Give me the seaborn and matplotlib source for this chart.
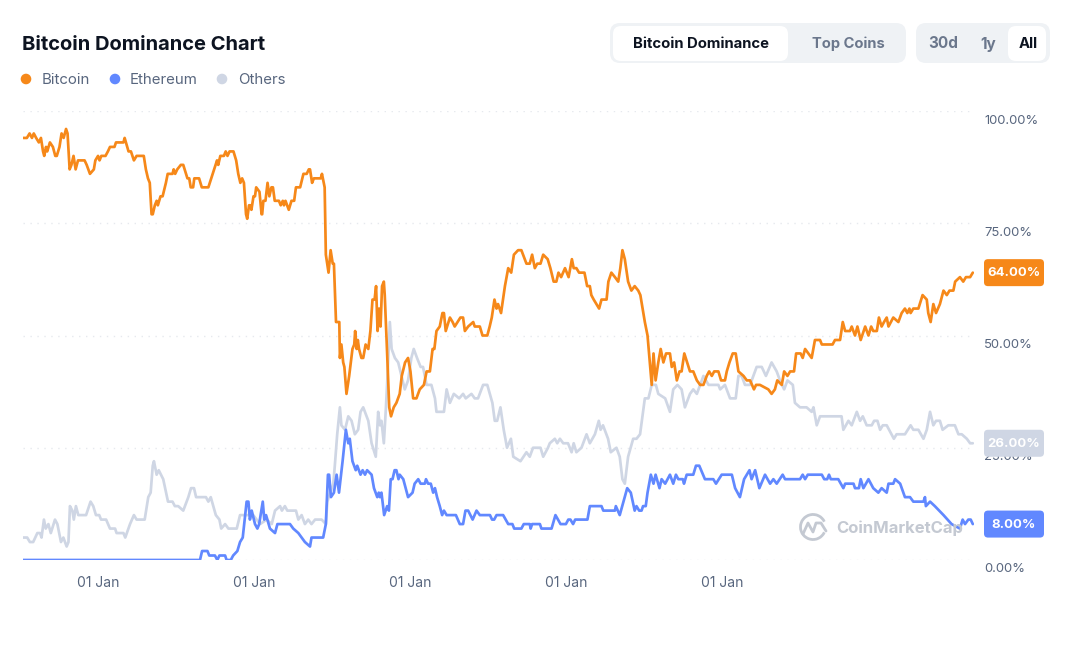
import numpy as np
import pandas as pd
import seaborn as sns
import matplotlib.pyplot as plt
import matplotlib.dates as mdates
from matplotlib.patches import FancyBboxPatch, Circle, Arc

# weeks since the first sample, and dominance in percent
start_date = pd.Timestamp('2015-07-10')

btc_weeks = [0,1.3,2.2,3,3.6,4.4,5.3,6,6.7,7.1,7.7,8.1,9,10,10.8,11.3,12.2,12.9,13.6,14.4,14.9,15.6,16.2,16.9,17.6,18.4,20.6,21.3,22.4,23.7,24.2,25.1,25.6,26.2,27.6,28.4,29.1,30.6,31.1,33.6,34,35.3,36.1,37.1,38,40.4,41.1,41.8,42.4,43,43.4,44.1,44.7,45.1,46,46.7,47.8,48.4,50,50.4,50.9,51.6,52.8,53.6,55,55.6,56.1,56.9,57.3,58.9,59.8,62,64.4,64.9,65.3,66,67.2,67.8,68.4,69.1,70.4,71.3,72,72.7,73.3,73.9,74.6,75,75.6,76.1,76.4,77.1,77.6,78,79.1,79.8,80,80.4,81.1,81.8,82.4,83.1,83.6,84.2,85.6,86.2,86.9,87.3,87.8,88.9,89.8,90.7,91.3,92.7,93.8,94.9,95.6,96,96.7,97.3,99.6,100,100.9,101.3,102.2,102.9,103.6,104,104.7,
    105.1,105.8,106,106.5,107.1,107.5,108.2,109.1,110.2,110.8,111.1,111.6,112,112.4,113.2,113.8,114.6,115.5,116.2,116.9,117.6,118.1,118.6,119.1,119.6,120.1,120.7,121,121.8,122.5,123.1,124,124.9,126,126.7,127.8,128.8,129.6,130.5,131.6,132.7,134.1,135,136.1,137,137.6,138.3,139.4,140.3,140.8,141.4,142.8,143.7,144.4,146.3,147.2,147.8,148.9,150.6,151.1,152.8,153.7,155.3,156.1,156.8,157.7,158.4,158.9,159.9,161.2,162.3,163.3,164.2,165.6,166.7,168.4,169.5,170.3,171.2,172,173.1,174,175.5,176.4,177.5,178.4,179.1,180,181.3,182.5,183.6,184.2,185.1,186,187.8,188.7,189.6,190.1,190.9,192.7,193.5,195.2,195.8,196.8,198,199.1,199.8,200.5,201.3,202.4,203.5,204.6,205.8,206.5,
    208,208.9,210.3,210.9,211.6,212.5,213.3,214.2,215.1,216.4,217,217.8,218.7,219.6,220.3,221.2,222.6,223.1,224.2,225.4,226.5,227.6,228.7,229.5,230.4,231.2,232.6,233.5,234.8,235.4,236.3,237.4,238.4,239.3,241,242.1,243.2,244.5,245.2,246.5,249.3,250.4,251.5,252.3,253.8,254.6,255.7,256.6,257.9,258.6,260.1,260.8,261.6,262.7,263.8,264.9,265.7,266.6,267.2,270.8,271.6,273.3,274.2,275,276.6,277.2,278.3,279.1,280.2,281.7,282.8,283.7,284.4,285.6,286.3,287.2,288,288.9,289.5,291.1,292.8,293.9,295,295.8,296.5,296.9,297.8,299.5,300.9,302.3,302.8,303.6,304.5,305.4,306.7,307.9,309,309.9,311.2,311.8,313.4,314.5,315.4,316.8,317.7]
btc_values = [94,94,95,94,95,94,93,94,91,90,92,91,93,92,90,90,92,95,94,96,95,87,88,90,87,89,89,88,86,87,89,90,89,90,90,91,92,92,93,93,94,91,91,89,90,90,87,85,84,77,77,79,80,79,81,81,84,86,86,87,86,87,88,88,85,85,83,83,85,85,83,83,88,89,88,90,90,91,90,91,91,89,86,84,85,84,77,76,79,79,78,81,81,83,82,77,77,80,80,84,81,83,83,80,80,79,80,79,80,78,80,80,83,83,86,86,87,87,84,85,85,86,83,68,64,69,66,66,53,
    53,53,45,48,44,43,37,41,47,48,51,47,49,47,45,45,48,47,51,58,58,61,51,56,52,61,62,59,46,34,32,34,35,37,41,44,45,42,36,36,38,39,42,42,47,47,51,52,55,55,51,54,53,52,54,54,51,52,53,52,52,50,50,52,54,58,56,57,55,61,65,64,68,69,69,66,66,68,65,66,66,68,67,65,62,62,64,63,65,63,67,65,65,64,64,61,61,59,58,56,58,58,62,64,63,62,65,69,67,62,60,61,60,59,
    53,50,39,46,40,44,47,44,46,46,43,44,40,42,42,46,43,42,42,40,39,39,41,42,41,42,42,40,40,42,44,46,46,42,41,40,40,38,39,39,38,37,38,40,39,42,41,42,42,46,46,45,47,46,45,49,49,49,48,48,49,49,53,51,51,52,50,52,49,52,50,52,51,51,54,52,53,54,52,54,53,55,56,55,56,55,56,56,59,58,55,53,57,55,57,60,59,60,60,62,63,62,63,63,64]

eth_weeks = [0,59.2,59.9,61.7,62.3,64.2,65,65.7,67.6,68.1,69.5,70.3,71.7,72.6,73.5,74.8,75.4,75.9,76.5,77.6,78.4,79,80.2,80.7,81.3,82.6,84.3,85.1,89.3,90.4,92.1,94.3,96,96.5,99.3,100.4,
    101.3,102,102.4,103,104,104.9,105.7,106.9,108,108.8,109.3,110.2,111.3,111.8,112.9,113.6,114.4,115.1,116.6,117.4,118.5,119,119.4,119.9,120.8,121.8,122.4,123,123.6,124.3,124.9,125.6,126,127.2,128.8,130.3,131,132.2,133,134.4,134.8,135.5,136.4,137.2,137.8,138.5,139.4,140.2,140.8,141.7,144.8,146.1,147.2,148,148.9,150.4,151.7,152.8,156.2,156.9,157.6,158.4,160.6,162.3,163.7,164.3,166.7,167.5,169.5,169.8,170.3,172.9,173.4,176.8,178.1,179.8,181.6,182.4,183.1,184,184.7,188.8,189.6,193.5,194.1,198,198.3,199.6,202.1,203.3,204.6,205.2,206.1,206.9,207.4,208.3,
    208.9,210,210.9,211.6,212.9,213.6,214.8,216.4,217.5,218.4,219.2,220.7,221.1,222,224.2,225.1,226.2,228.1,230.9,231.8,233.7,237.1,238.2,239.8,241.2,243,243.7,244.9,246.3,248.2,249.9,251,252.1,254.1,254.9,259.9,260.8,261.6,262.5,267.2,268,269,269.6,270.2,272.7,274.4,275,277.8,278.3,279.6,280.2,281.1,282.8,284.4,286.1,287.2,288.9,289.5,291.1,291.7,293.4,295,296.7,297.8,301.2,301.7,302,303.4,305,307.9,310.6,313.4,314.3,315.1,316.2,317,317.7]
eth_values = [0,0,2,2,1,1,0,1,1,0,0,1,2,4,5,13,13,9,11,8,7,8,13,9,10,7,6,8,8,7,6,4,3,5,5,5,
    8,19,19,14,15,19,15,22,29,26,27,22,20,21,19,20,19,20,19,16,14,15,14,15,10,12,11,18,18,20,20,18,19,18,14,15,17,18,17,17,18,17,17,15,16,14,12,10,11,10,10,8,8,11,11,9,11,10,10,9,9,10,10,8,8,7,7,8,8,7,8,8,7,7,10,8,8,9,9,8,9,9,12,12,11,11,12,10,16,15,11,12,11,11,12,12,
    15,19,17,19,16,18,17,19,17,19,18,18,17,19,19,21,21,18,18,17,19,19,16,14,18,20,18,20,16,19,17,18,17,19,18,18,19,18,19,19,18,18,19,18,18,16,17,17,16,16,18,16,18,16,15,16,15,17,17,18,17,14,14,13,13,14,12,13,12,10,8,7,9,8,9,9,8]

others_weeks = [0,1.4,2.3,3.4,4.8,5.7,6.2,7,7.6,8.5,9.3,10.7,11.5,12.7,13.5,14.6,15.2,15.7,16.5,17,17.7,18.5,21.1,22.6,23.5,24.4,25.5,26.1,27.8,29.1,30.8,31.3,33.6,34.2,35.8,37.1,38,40.7,41.9,42.7,43.4,43.8,44.7,45.4,46.9,48.5,50,50.8,51.9,53.6,55.3,56.2,57.2,57.9,61.2,62,62.8,64.5,65.7,66.3,67.6,68.7,71.5,72.6,74.8,77,79.3,81.5,83.2,84.3,86,86.6,87.6,88.4,91.3,92.1,93.2,94.3,95.4,96.5,97.7,99.9,101.3,101.8,103.8,
    104.3,105.1,106,106.5,107.7,108.8,109.9,111,112.1,112.9,113.8,115.5,116.6,118,118.8,119.4,119.9,120.7,121.4,122,122.7,123.3,124.4,125.5,127.7,128.8,129.9,130.7,131.8,133,133.8,135,136.6,137.8,138.3,140.8,141.7,142.8,144.1,145.9,147.2,148.1,150,151.1,152.2,153.9,155.3,157,157.8,158.6,159.7,160.8,161.9,163.2,164,166.4,168.4,169.5,170.6,173.1,174,175.6,176.2,177.9,178.7,179.6,180.7,182.3,183.5,184.2,185.1,186.8,188.5,189.6,191.3,192.6,193.2,194,195.7,196.6,198.5,199.6,200.5,201.3,202.4,204.1,205.2,
    206.4,208,209.2,210.3,211.7,212.5,214.8,216.4,217.5,218.9,220.3,221.4,223.1,224.2,225.4,227.6,229.3,232.6,233.2,234.8,236.5,238.4,239.3,240.4,241.5,243.2,244.3,245.4,247.1,248.5,250.4,252.1,253.2,254.6,255.7,257.5,258.2,259.9,261,262.1,263.8,264.4,265.5,266.6,273.8,274.4,276.1,277.2,278.9,280,280.9,282.2,283.9,284.7,285.8,286.7,287.6,288.9,291.3,292.2,295,296.9,297.8,299.5,301.2,302.3,303.4,304.5,305.4,306.7,307.6,309.5,311.7,312.9,314,315.7,316.8,317.7]
others_values = [5,5,4,4,6,6,5,9,7,8,6,9,8,4,5,3,4,12,11,9,12,10,10,13,12,10,10,9,9,7,7,6,6,5,8,10,9,9,14,15,21,22,19,20,18,13,13,12,12,11,14,16,16,14,14,13,14,10,9,7,8,7,7,10,10,10,8,9,8,11,12,11,12,11,11,9,10,8,9,8,9,9,8,13,17,
    21,28,34,30,29,32,31,28,29,33,34,31,26,23,33,30,31,26,34,42,53,47,45,44,38,40,45,47,45,43,43,39,39,36,33,33,38,35,37,36,37,36,37,36,36,39,39,35,31,31,34,29,25,27,23,22,24,23,25,25,23,25,26,27,26,27,26,26,24,26,24,25,28,26,28,31,29,30,27,24,25,23,18,17,23,27,27,
    28,36,36,39,39,37,36,33,38,39,38,34,37,38,37,41,39,39,38,39,36,36,41,41,39,39,41,43,43,41,44,42,40,38,40,39,35,34,34,34,33,34,30,32,32,29,31,30,33,31,32,30,30,31,31,29,30,30,27,28,28,30,29,29,27,29,33,30,31,31,29,30,30,28,28,27,26,26]

series_names = ['Others', 'Ethereum', 'Bitcoin']
series_colors = ['#CFD6E4', '#6188FF', '#F68819']
current_values = [26, 8, 64]
x_ticks = pd.to_datetime(['2016-01-01', '2017-01-01', '2018-01-01', '2019-01-01', '2020-01-01'])
y_ticks = [0, 25, 50, 75, 100]
y_tick_labels = ['0.00%', '25.00%', '50.00%', '75.00%', '100.00%']


def make_frame(name, weeks, values):
    dates = start_date + pd.to_timedelta(np.array(weeks) * 7, unit='D')
    return pd.DataFrame({'date': dates, 'value': values, 'series': name})


df = pd.concat([
    make_frame('Others', others_weeks, others_values),
    make_frame('Ethereum', eth_weeks, eth_values),
    make_frame('Bitcoin', btc_weeks, btc_values),
])

sns.set_theme(style='white')
plt.rcParams['font.family'] = ['Inter', 'DejaVu Sans']

fig = plt.figure(figsize=(10.67, 6.47), dpi=100)
W, H = 1067, 647
ax = fig.add_axes([23 / W, (H - 560) / H, (974 - 23) / W, 449 / H])

sns.lineplot(data=df, x='date', y='value', hue='series', hue_order=series_names,
             palette=series_colors, estimator=None, sort=False, legend=False,
             linewidth=1.95, solid_joinstyle='round', ax=ax)

ax.set_xlim(start_date, start_date + pd.Timedelta(days=7 * 318.1))
ax.set_ylim(0, 100)
ax.set_xlabel('')
ax.set_ylabel('')
sns.despine(ax=ax, left=True, bottom=True)

ax.set_xticks(x_ticks)
ax.xaxis.set_major_formatter(mdates.DateFormatter('%d %b'))
ax.tick_params(axis='x', length=0, pad=11.5, labelsize=10, labelcolor='#58667E')
ax.set_yticks(y_ticks)
ax.set_yticklabels([])
ax.tick_params(axis='y', length=0)
ax.grid(axis='y', color='#E6E9EE', linewidth=1, linestyle=(0, (1, 4)))
ax.set_axisbelow(True)

# percent labels sit a little under their gridlines
for val, lab in zip(y_ticks, y_tick_labels):
    ax.annotate(lab, xy=(1, val), xycoords=('axes fraction', 'data'),
                xytext=(10, -9.5), textcoords='offset pixels', va='center', ha='left',
                fontsize=9.4, color='#58667E', annotation_clip=False)

# overlay in pixel coordinates for the page furniture around the plot
ui = fig.add_axes([0, 0, 1, 1], facecolor='none')
ui.set_xlim(0, W)
ui.set_ylim(H, 0)
ui.axis('off')


def round_box(x0, y0, x1, y1, color, rad=6, z=3):
    ui.add_patch(FancyBboxPatch((x0 + rad, y0 + rad), x1 - x0 - 2 * rad, y1 - y0 - 2 * rad,
                                boxstyle=f'round,pad={rad},rounding_size={rad}',
                                fc=color, ec='none', zorder=z))


ui.text(22, 44.5, 'Bitcoin Dominance Chart', fontsize=14.5, fontweight='bold',
        color='#0D1421', va='center', ha='left')

for dot_x, txt_x, name, col in [(26, 42, 'Bitcoin', '#F68819'),
                                (115, 130, 'Ethereum', '#6188FF'),
                                (222, 238, 'Others', '#CFD6E4')]:
    ui.add_patch(Circle((dot_x, 79), 5.3, fc=col, ec='none'))
    ui.text(txt_x, 80, name, fontsize=10.8, color='#58667E', va='center', ha='left')

# toggle buttons
round_box(610, 23, 906, 63, '#EFF2F5', rad=10)
round_box(613, 26, 788, 61, 'white', rad=8, z=4)
round_box(916, 23, 1050, 63, '#EFF2F5', rad=10)
round_box(1008, 26, 1046, 61, 'white', rad=8, z=4)
ui.text(701, 44, 'Bitcoin Dominance', fontsize=10.7, fontweight='bold', color='#0D1421',
        va='center', ha='center', zorder=5)
ui.text(848, 44, 'Top Coins', fontsize=10.6, fontweight='bold', color='#6B778C',
        va='center', ha='center', zorder=5)
ui.text(943, 44, '30d', fontsize=11, fontweight='bold', color='#6B778C',
        va='center', ha='center', zorder=5)
ui.text(988, 44, '1y', fontsize=11, fontweight='bold', color='#6B778C',
        va='center', ha='center', zorder=5)
ui.text(1028, 44, 'All', fontsize=10.7, fontweight='bold', color='#0D1421',
        va='center', ha='center', zorder=5)

# current value badges
for val, col in zip(current_values, series_colors):
    cy = 560 - val * 4.49
    round_box(984, cy - 13.5, 1044, cy + 13.5, col, rad=4)
    ui.text(1014, cy + 0.5, f'{val:.2f}%', fontsize=9.5, fontweight='bold', color='white',
            va='center', ha='center', zorder=5)

# watermark
wm = '#C4C9D2'
ui.add_patch(Arc((813, 527), 25, 25, theta1=25, theta2=335, color=wm, lw=2))
ui.plot([803, 808, 813, 816, 821, 826], [534, 523, 532, 523, 523, 531], color=wm, lw=2,
        solid_joinstyle='round')
ui.text(836, 528, 'CoinMarketCap', fontsize=12, fontweight='bold', color=wm,
        va='center', ha='left', zorder=5)

plt.savefig('out.png', dpi=100)
plt.close()
